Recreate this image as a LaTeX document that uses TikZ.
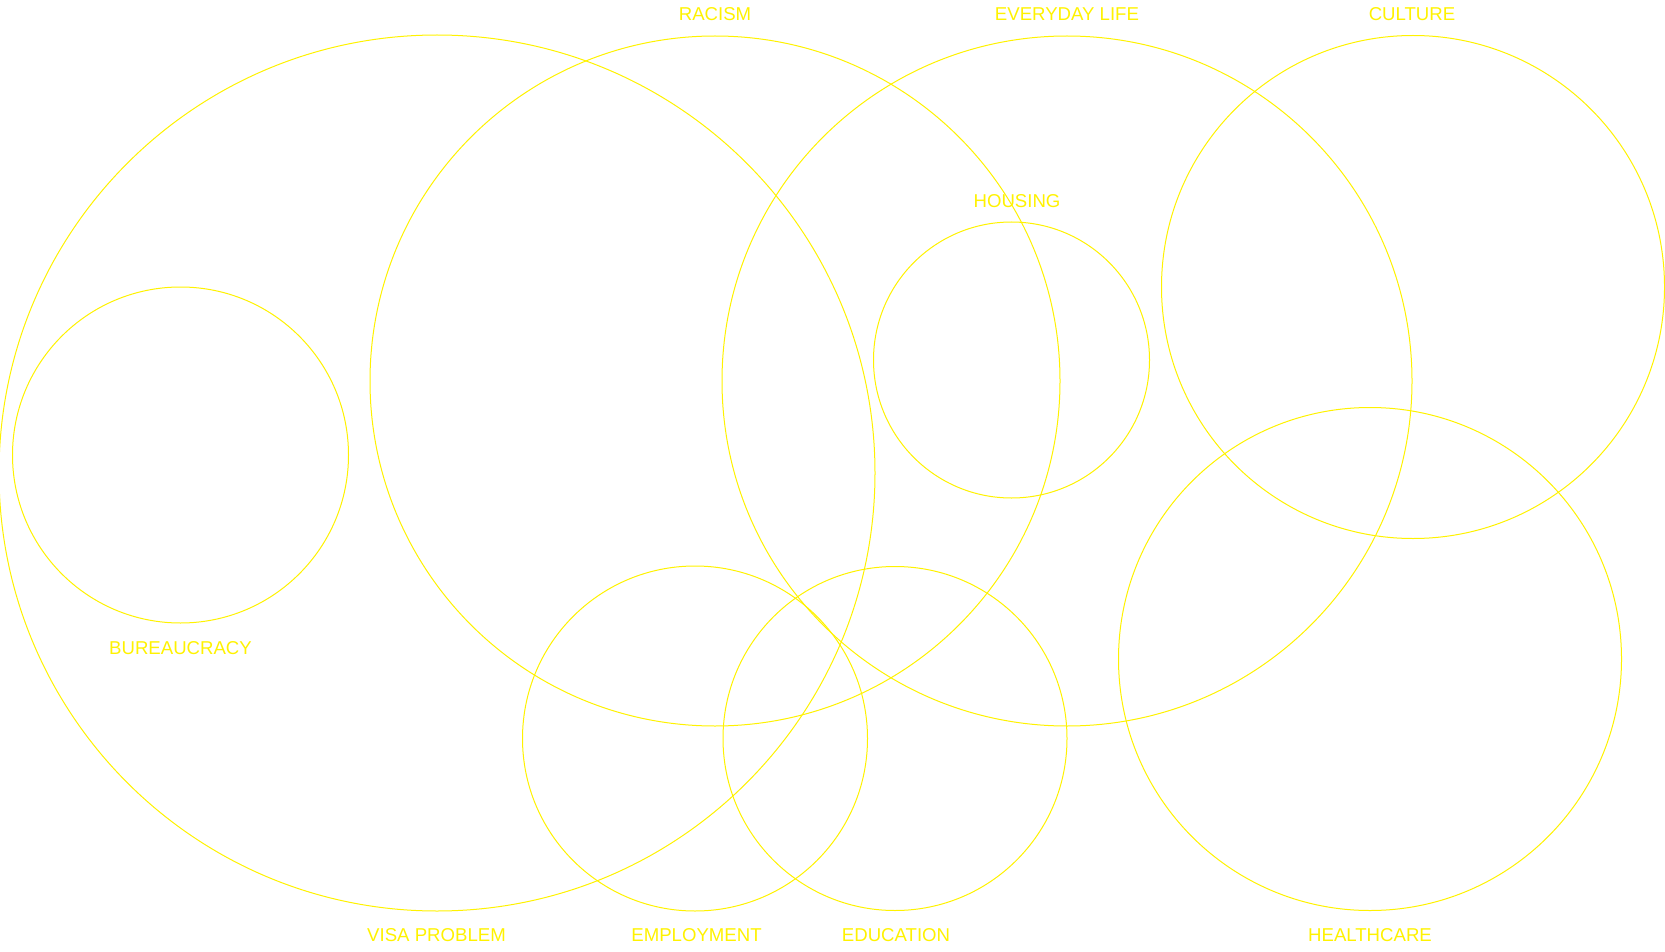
\documentclass[tikz,border=0pt]{standalone}
\usepackage{fontspec}
\setmainfont{Liberation Sans}
\usetikzlibrary{positioning}

\begin{document}
\begin{tikzpicture}[
    x=1pt, y=-1pt,
    font=\fontsize{18.6}{20}\selectfont,
    ring/.style={
        draw=yellow,
        circle,
        line width=1pt,
        inner sep=0pt
    },
    tag/.style={
        text=yellow,
        inner sep=0pt
    }
]
\useasboundingbox (0,0) rectangle (1665,952);

% Circles
\node[ring, minimum size=876pt] (visa) at (437,473) {};
\node[ring, minimum size=690pt] (racism) at (715,381) {};
\node[ring, minimum size=690pt] (everyday) at (1067,381) {};
\node[ring, minimum size=503pt] (culture) at (1413,287) {};
\node[ring, minimum size=276pt] (housing) at (1011.5,360) {};
\node[ring, minimum size=336pt] (bureau) at (180.5,455) {};
\node[ring, minimum size=345pt] (employ) at (695,738.5) {};
\node[ring, minimum size=344pt] (educ) at (895,738.5) {};
\node[ring, minimum size=503pt] (health) at (1370,659) {};

% Labels
\node[tag] (racism_lbl) at (715,14.5) {RACISM};
\node[tag] (everyday_lbl) at (1067,14.5) {EVERYDAY LIFE};
\node[tag] (culture_lbl) at (1412,14.5) {CULTURE};
\node[tag] (housing_lbl) at (1017,201.5) {HOUSING};
\node[tag] (bureau_lbl) at (180.5,648) {BUREAUCRACY};
\node[tag] (visa_lbl) at (436.5,935) {VISA PROBLEM};
\node[tag] (employ_lbl) at (696.5,935) {EMPLOYMENT};
\node[tag] (educ_lbl) at (896,935) {EDUCATION};
\node[tag] (health_lbl) at (1370,935) {HEALTHCARE};

\end{tikzpicture}
\end{document}
